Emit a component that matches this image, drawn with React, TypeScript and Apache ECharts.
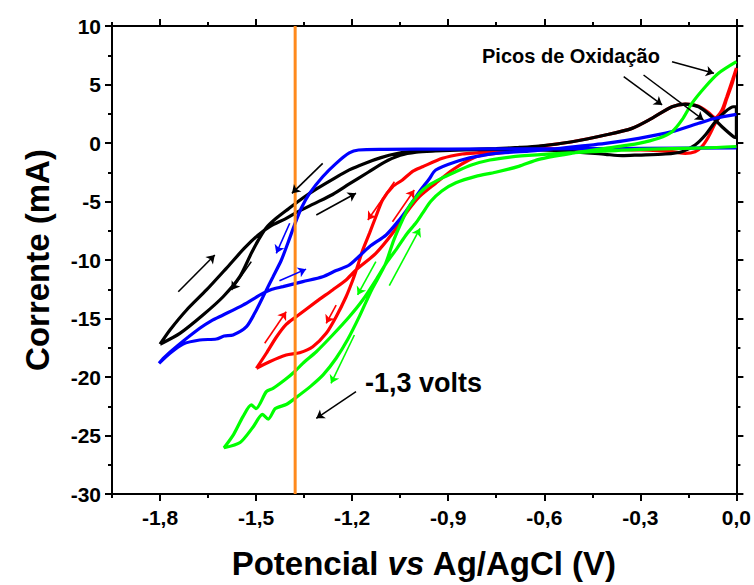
import React, { useEffect, useRef } from "react";
import * as echarts from "echarts";

// ---------- axis definitions ----------
const xMajor = [-1.8, -1.5, -1.2, -0.9, -0.6, -0.3, 0];
const xMinor = [-1.95, -1.65, -1.35, -1.05, -0.75, -0.45, -0.15];
const xMin = -1.95;
const xMax = 0;
const yMin = -30;
const yMax = 10;
const yStep = 5;
const orangeX = -1.378;

// ---------- voltammograms [potential V, current mA] ----------
const blackCurve = [
  [-1.8, -17.2], [-1.769, -15.98], [-1.717, -14.27], [-1.655, -12.56], [-1.593, -10.71],
  [-1.535, -8.95], [-1.495, -7.9], [-1.455, -7.1], [-1.41, -6.5], [-1.375, -5.95], [-1.32, -5.2],
  [-1.261, -4.4], [-1.209, -3.5], [-1.15, -2.5], [-1.1, -1.65], [-1.05, -1.05],
  [-1.0, -0.78], [-0.94, -0.68], [-0.85, -0.58], [-0.75, -0.48], [-0.68, -0.38],
  [-0.617, -0.26], [-0.513, 0.11], [-0.409, 0.68], [-0.326, 1.25], [-0.264, 2.11],
  [-0.201, 3.1], [-0.16, 3.33], [-0.118, 3.1], [-0.077, 2.25], [-0.045, 1.39],
  [-0.009, 0.54], [0, 0.45], [0, 3.1], [-0.009, 3.1], [-0.035, 2.68], [-0.066, 1.82],
  [-0.097, 0.68], [-0.129, -0.17], [-0.17, -0.74], [-0.222, -0.94], [-0.305, -1.03],
  [-0.357, -1.08], [-0.409, -0.97], [-0.513, -0.74], [-0.617, -0.6], [-0.75, -0.55],
  [-0.85, -0.58], [-0.959, -0.62], [-1.02, -0.74], [-1.06, -0.9], [-1.11, -1.25],
  [-1.157, -1.7], [-1.209, -2.3], [-1.261, -3.1], [-1.31, -3.9], [-1.354, -4.7],
  [-1.4, -5.65], [-1.44, -6.5], [-1.47, -7.3], [-1.493, -8.3], [-1.515, -9.43],
  [-1.551, -11.43], [-1.603, -13.14], [-1.666, -14.7], [-1.738, -16.27], [-1.8, -17.2],
];

const redCurve = [
  [-1.499, -19.26], [-1.468, -17.97], [-1.437, -16.6], [-1.406, -15.5], [-1.375, -14.85],
  [-1.312, -13.56], [-1.261, -12.56], [-1.219, -11.71], [-1.188, -10.85], [-1.126, -9.43],
  [-1.074, -7.72], [-1.032, -6.01], [-0.99, -4.59], [-0.939, -3.44], [-0.887, -2.31],
  [-0.835, -1.45], [-0.793, -1.03], [-0.731, -0.83], [-0.65, -0.55], [-0.617, -0.3],
  [-0.513, 0.11], [-0.409, 0.68], [-0.326, 1.25], [-0.264, 2.11], [-0.201, 3.1],
  [-0.16, 3.33], [-0.118, 3.15], [-0.087, 2.6], [-0.066, 2.15], [-0.045, 2.82],
  [-0.03, 3.96], [-0.012, 5.4], [0, 6.4], [-0.012, 5.2], [-0.03, 3.8], [-0.045, 2.6],
  [-0.066, 1.68], [-0.087, 0.54], [-0.108, -0.31], [-0.129, -0.74], [-0.16, -0.88],
  [-0.201, -0.74], [-0.3, -0.6], [-0.45, -0.5], [-0.6, -0.5], [-0.7, -0.6],
  [-0.804, -0.83], [-0.856, -0.94], [-0.918, -1.31], [-0.98, -2.03], [-1.01, -2.4],
  [-1.043, -3.16], [-1.074, -3.74], [-1.105, -4.87], [-1.126, -6.3], [-1.146, -7.72],
  [-1.167, -9.15], [-1.184, -10.6], [-1.198, -11.71], [-1.219, -13.14], [-1.25, -14.85],
  [-1.281, -16.27], [-1.323, -17.41], [-1.364, -17.92], [-1.406, -18.12], [-1.458, -18.69],
  [-1.499, -19.26],
];

const blueCurve = [
  [0, -0.42], [-0.3, -0.45], [-0.6, -0.5], [-0.9, -0.52], [-1.1, -0.55], [-1.18, -0.6],
  [-1.209, -0.85], [-1.25, -1.74], [-1.292, -2.88], [-1.333, -4.3], [-1.359, -5.58],
  [-1.38, -7.0], [-1.401, -8.57], [-1.421, -10.0], [-1.447, -11.43], [-1.473, -12.85],
  [-1.499, -14.27], [-1.53, -15.7], [-1.572, -16.41], [-1.6, -16.5], [-1.624, -16.75],
  [-1.676, -16.84], [-1.728, -17.18], [-1.769, -17.97], [-1.803, -18.83], [-1.79, -18.4],
  [-1.749, -17.41], [-1.676, -15.84], [-1.64, -15.2], [-1.603, -14.7], [-1.541, -13.85],
  [-1.479, -12.85], [-1.45, -12.5], [-1.416, -12.28], [-1.354, -11.85], [-1.292, -11.43],
  [-1.25, -10.9], [-1.209, -10.43], [-1.146, -8.86], [-1.094, -7.86], [-1.053, -6.58],
  [-1.022, -5.44], [-0.99, -4.16], [-0.96, -3.1], [-0.939, -2.31], [-0.876, -1.6],
  [-0.814, -1.17], [-0.752, -0.88], [-0.648, -0.7], [-0.55, -0.45], [-0.409, -0.03],
  [-0.305, 0.4], [-0.201, 0.97], [-0.118, 1.68], [-0.066, 2.11], [0, 2.45],
];

const greenCurve = [
  [0, -0.3], [-0.1, -0.42], [-0.3, -0.55], [-0.45, -0.75], [-0.59, -0.95], [-0.69, -1.15],
  [-0.77, -1.45], [-0.83, -1.9], [-0.88, -2.5], [-0.92, -3.0], [-0.96, -3.6], [-0.99, -4.3],
  [-1.022, -5.44], [-1.043, -6.58], [-1.07, -8.3], [-1.097, -10.4], [-1.14, -12.6],
  [-1.177, -14.8], [-1.214, -16.8], [-1.25, -18.4], [-1.29, -19.8], [-1.33, -20.8],
  [-1.375, -21.75], [-1.406, -22.35], [-1.44, -22.7], [-1.462, -23.6], [-1.48, -23.2],
  [-1.51, -24.3], [-1.55, -25.6], [-1.6, -26.05], [-1.57, -24.9], [-1.541, -23.39],
  [-1.515, -22.39], [-1.5, -22.7], [-1.468, -21.25], [-1.447, -20.97], [-1.411, -20.26],
  [-1.38, -19.55], [-1.354, -18.83], [-1.312, -17.84], [-1.261, -16.41], [-1.209, -14.85],
  [-1.167, -13.42], [-1.126, -11.71], [-1.094, -10.28], [-1.06, -9.0], [-1.03, -7.8],
  [-1.0, -6.8], [-0.98, -6.0], [-0.955, -5.0], [-0.92, -4.1], [-0.876, -3.4],
  [-0.814, -2.85], [-0.752, -2.5], [-0.68, -2.0], [-0.617, -1.4], [-0.513, -0.88],
  [-0.409, -0.46], [-0.305, -0.03], [-0.243, 0.4], [-0.201, 0.97], [-0.17, 1.97],
  [-0.139, 3.39], [-0.097, 4.81], [-0.056, 5.96], [0, 6.95],
];

// ---------- direction arrows [[from], [to]] ----------
const blackArrows = [
  [[-1.292, -1.74], [-1.388, -4.3]],
  [[-1.312, -6.15], [-1.188, -4.3]],
  [[-1.743, -12.71], [-1.629, -9.57]],
  [[-1.515, -10.14], [-1.577, -12.56]],
];
const blueArrows = [
  [[-1.395, -6.86], [-1.437, -9.43]],
  [[-1.427, -11.78], [-1.344, -10.78]],
];
const redArrows = [
  [[-1.068, -3.31], [-1.151, -6.58]],
  [[-1.074, -6.73], [-1.006, -4.02]],
  [[-1.473, -17.12], [-1.406, -14.42]],
  [[-1.25, -13.85], [-1.281, -15.41]],
];
const greenArrows = [
  [[-1.126, -10.14], [-1.183, -12.99]],
  [[-1.193, -16.41], [-1.266, -20.54]],
  [[-1.084, -12.2], [-0.988, -7.3]],
];
const noteArrows = [
  [[-0.201, 6.95], [-0.07, 5.96]],
  [[-0.352, 5.67], [-0.232, 3.25]],
  [[-0.29, 5.81], [-0.103, 1.97]],
  [[-1.188, -21.25], [-1.312, -23.53]],
];

const noteOxid = "Picos de Oxidação";
const noteVolts = "-1,3 volts";

const FONT = "'Liberation Sans', Arial, Helvetica, sans-serif";

function fmtX(v: number) {
  if (Math.abs(v) < 1e-9) return "0,0";
  return v.toFixed(1).replace(".", ",");
}

export default function App() {
  const ref = useRef<HTMLDivElement | null>(null);

  useEffect(() => {
    if (!ref.current) return;
    const chart = echarts.init(ref.current, undefined, { renderer: "svg" });

    const axisLineStyle = { color: "#000", width: 2 };
    const tickStyle = { color: "#000", width: 2 };
    const baseX = { type: "value", min: xMin, max: xMax, splitLine: { show: false } };

    const curve = (name: string, data: number[][], color: string) => ({
      name,
      type: "line",
      data,
      showSymbol: false,
      symbol: "none",
      smooth: 0.25,
      lineStyle: { color, width: 3.2 },
      xAxisIndex: 0,
      yAxisIndex: 0,
      silent: true,
      z: 3,
    });

    const arrows = (data: number[][][], color: string, width = 1.6) => ({
      type: "lines",
      coordinateSystem: "cartesian2d",
      xAxisIndex: 0,
      yAxisIndex: 0,
      symbol: ["none", "arrow"],
      symbolSize: 8,
      lineStyle: { color, width, opacity: 1, curveness: 0 },
      data: data.map((c) => ({ coords: c })),
      silent: true,
      z: 6,
    });

    chart.setOption({
      animation: false,
      backgroundColor: "#fff",
      textStyle: { fontFamily: FONT },
      grid: { left: 112, right: 16, top: 26, bottom: 91, containLabel: false },
      xAxis: [
        {
          ...baseX,
          position: "bottom",
          axisLine: { show: true, onZero: false, lineStyle: axisLineStyle },
          axisTick: { show: true, customValues: xMajor, length: 7, inside: false, lineStyle: tickStyle },
          axisLabel: {
            show: true,
            customValues: xMajor,
            formatter: (v: number) => fmtX(v),
            fontFamily: FONT,
            fontWeight: "bold",
            fontSize: 21,
            color: "#000",
            margin: 13,
          },
          name: "{n|Potencial }{i|vs}{n| Ag/AgCl (V)}",
          nameLocation: "middle",
          nameGap: 53,
          nameTextStyle: {
            rich: {
              n: { fontFamily: FONT, fontWeight: "bold", fontSize: 33, color: "#000" },
              i: { fontFamily: FONT, fontWeight: "bold", fontStyle: "italic", fontSize: 33, color: "#000" },
            },
          },
        },
        {
          ...baseX,
          position: "bottom",
          axisLine: { show: false, onZero: false },
          axisTick: { show: true, customValues: xMinor, length: 4, lineStyle: tickStyle },
          axisLabel: { show: false },
        },
        {
          ...baseX,
          position: "top",
          axisLine: { show: true, onZero: false, lineStyle: axisLineStyle },
          axisTick: { show: true, customValues: xMajor, length: 7, lineStyle: tickStyle },
          axisLabel: { show: false },
        },
        {
          ...baseX,
          position: "top",
          axisLine: { show: false, onZero: false },
          axisTick: { show: true, customValues: xMinor, length: 4, lineStyle: tickStyle },
          axisLabel: { show: false },
        },
      ],
      yAxis: [
        {
          type: "value",
          min: yMin,
          max: yMax,
          interval: yStep,
          position: "left",
          splitLine: { show: false },
          axisLine: { show: true, onZero: false, lineStyle: axisLineStyle },
          axisTick: { show: true, length: 7, lineStyle: tickStyle },
          minorTick: { show: true, splitNumber: 2, length: 4, lineStyle: tickStyle },
          axisLabel: {
            fontFamily: FONT,
            fontWeight: "bold",
            fontSize: 21,
            color: "#000",
            margin: 11,
          },
          name: "Corrente (mA)",
          nameLocation: "middle",
          nameGap: 58,
          nameTextStyle: { fontFamily: FONT, fontWeight: "bold", fontSize: 33, color: "#000" },
        },
        {
          type: "value",
          min: yMin,
          max: yMax,
          interval: yStep,
          position: "right",
          splitLine: { show: false },
          axisLine: { show: true, onZero: false, lineStyle: axisLineStyle },
          axisTick: { show: true, length: 7, lineStyle: tickStyle },
          minorTick: { show: true, splitNumber: 2, length: 4, lineStyle: tickStyle },
          axisLabel: { show: false },
        },
      ],
      series: [
        curve("red", redCurve, "#ff0000"),
        curve("black", blackCurve, "#000000"),
        curve("blue", blueCurve, "#0000ff"),
        curve("green", greenCurve, "#00ff00"),
        {
          type: "line",
          data: [[orangeX, yMin], [orangeX, yMax]],
          showSymbol: false,
          symbol: "none",
          lineStyle: { color: "#ff8a1c", width: 3 },
          silent: true,
          z: 5,
        },
        arrows(blackArrows, "#000"),
        arrows(blueArrows, "#0000ff"),
        arrows(redArrows, "#ff0000"),
        arrows(greenArrows, "#00ff00"),
        arrows(noteArrows, "#000", 1.5),
      ],
      graphic: [
        {
          type: "text",
          left: 482,
          top: 46,
          style: { text: noteOxid, fontFamily: FONT, fontWeight: "bold", fontSize: 20, fill: "#000" },
          silent: true,
        },
        {
          type: "text",
          left: 365,
          top: 369,
          style: { text: noteVolts, fontFamily: FONT, fontWeight: "bold", fontSize: 27, fill: "#000" },
          silent: true,
        },
      ],
    });

    return () => chart.dispose();
  }, []);

  return (
    <div
      ref={ref}
      style={{ position: "fixed", left: 0, top: 0, width: 754, height: 585, background: "#fff" }}
    />
  );
}
